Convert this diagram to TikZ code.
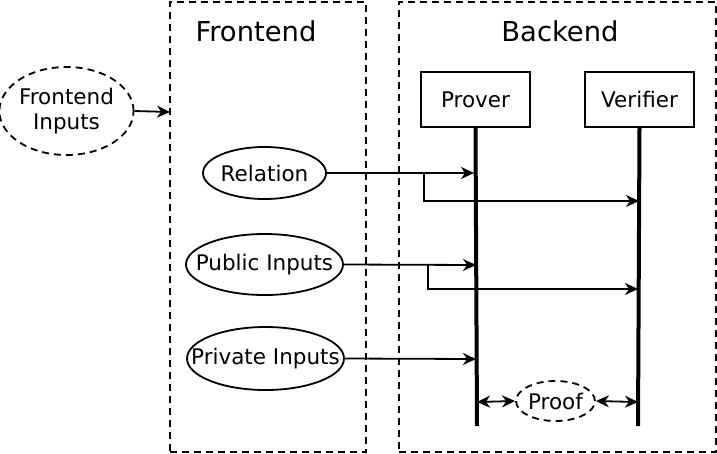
\documentclass[tikz,border=0pt]{standalone}
\usepackage{fontspec}
\setmainfont{DejaVu Sans}
\usetikzlibrary{shapes.geometric,arrows.meta}
\begin{document}
\begin{tikzpicture}[x=1pt,y=-1pt,
  thin/.style={line width=1.8pt},
  dsh/.style={dash pattern=on 7pt off 5pt},
  grp/.style={draw,thin,dsh},
  ell/.style={draw,thin,ellipse,inner sep=0pt,font=\fontsize{21.5}{25}\selectfont,align=center},
  actor/.style={draw,thin,rectangle,inner sep=0pt,minimum width=109pt,minimum height=55pt,font=\fontsize{21.5}{25}\selectfont},
  ttl/.style={font=\fontsize{27.4}{31}\selectfont},
  arr/.style={thin,-{Stealth[length=13pt,width=12pt,inset=4pt]}},
  darr/.style={thin,{Stealth[length=13pt,width=12pt,inset=4pt]}-{Stealth[length=13pt,width=12pt,inset=4pt]}},
  life/.style={line width=4pt}]
\useasboundingbox (0,0) rectangle (717,453);
% groups
\node[grp,minimum width=196pt,minimum height=450pt,inner sep=0pt] (fe) at (268,227) {};
\node[grp,minimum width=317pt,minimum height=450pt,inner sep=0pt] (be) at (557.5,227) {};
\node[ttl] (fet) at (256,31) {Frontend};
\node[ttl] (bet) at (560,31) {Backend};
% frontend inputs
\node[ell,dsh,minimum width=129pt,minimum height=88pt] (fin) at (66.5,111) {Frontend\\Inputs};
\coordinate (feentry) at (170,112);
\draw[arr] (fin.east) -- (feentry);
% actors
\node[actor] (prover) at (475.5,99.5) {Prover};
\node[actor] (verifier) at (639.5,99.5) {Verifier};
\coordinate (pend) at (477,426);
\coordinate (vend) at (638,426);
\draw[life] (prover.south) -- (pend);
\draw[life] (verifier.south) -- (vend);
% inputs
\node[ell,minimum width=123pt,minimum height=52pt] (rel) at (264.5,173) {\makebox[0pt]{Relation}};
\node[ell,minimum width=157pt,minimum height=61pt] (pub) at (264.5,264.5) {\makebox[0pt]{Public Inputs}};
\node[ell,minimum width=157pt,minimum height=63pt] (priv) at (265.5,358.5) {\makebox[0pt]{Private Inputs}};
\coordinate (relp) at (474,173);
\coordinate (relv) at (639,201);
\coordinate (pubp) at (476,265);
\coordinate (pubv) at (638,289);
\coordinate (privp) at (476,359);
\draw[arr] (rel.east) -- (relp);
\draw[arr] (424,173) |- (relv);
\draw[arr] (pub.east) -- (pubp);
\draw[arr] (428,264.5) |- (pubv);
\draw[arr] (priv.east) -- (privp);
% proof
\node[ell,dsh,minimum width=79pt,minimum height=40pt] (proof) at (555.5,401) {\makebox[0pt]{Proof}};
\coordinate (pp) at (477,402);
\coordinate (vp) at (638,402);
\draw[darr] (pp) -- (proof.west);
\draw[darr] (proof.east) -- (vp);
\end{tikzpicture}
\end{document}
